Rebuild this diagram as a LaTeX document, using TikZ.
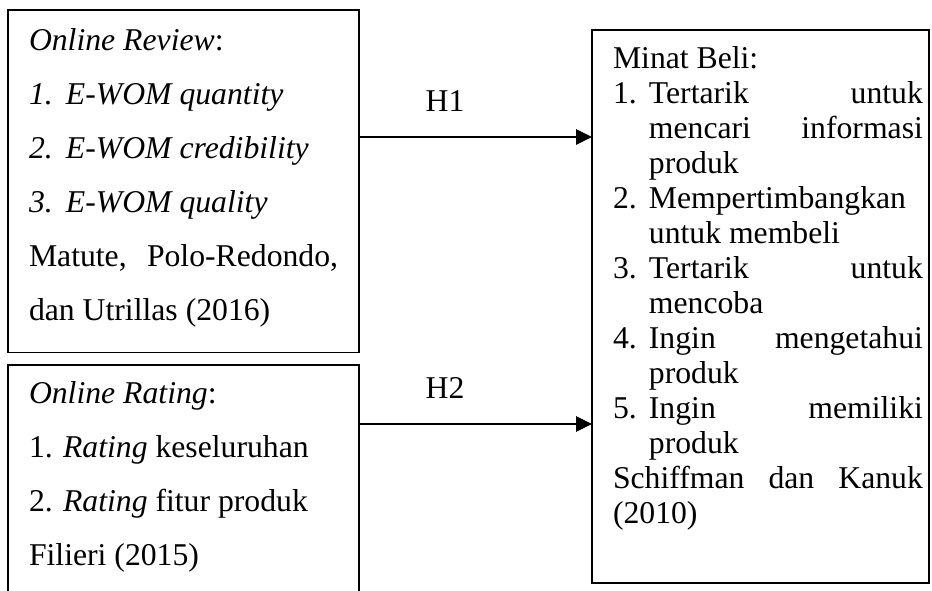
\documentclass[tikz,border=0pt]{standalone}
\usepackage{fontspec}
\setmainfont{Liberation Serif}
\usetikzlibrary{arrows.meta,positioning}

\begin{document}
\begin{tikzpicture}[x=0.3785pt, y=-0.3785pt,
    box/.style={rectangle, draw, line width=0.5pt, anchor=north west,
      inner xsep=7.95pt, inner ysep=0pt, outer sep=0pt, align=justify},
    arr/.style={line width=0.8pt, -{Triangle[length=6pt,width=5.7pt]}},
    lbl/.style={anchor=base, font=\fontsize{12pt}{14pt}\selectfont}]
    \useasboundingbox (0,0) rectangle (932,590);
    \clip (0,0) rectangle (932,590);

    % Online Review
    \node[box, text width=117pt, font=\fontsize{12pt}{20.44pt}\selectfont] (review) at (8,10) {%
      \rule{0pt}{15.5pt}\textit{Online Review}:\\
      \makebox[14pt][l]{\textit{1.}}\textit{E-WOM quantity}\\
      \makebox[14pt][l]{\textit{2.}}\textit{E-WOM credibility}\\
      \makebox[14pt][l]{\textit{3.}}\textit{E-WOM quality}\\
      Matute,\hfill Polo-Redondo,\\
      dan Utrillas (2016)\rule[-11.9pt]{0pt}{11.9pt}};

    % Online Rating
    \node[box, text width=117pt, font=\fontsize{12pt}{20.55pt}\selectfont] (rating) at (8,365) {%
      \rule{0pt}{14.4pt}\textit{Online Rating}:\\
      \makebox[12.9pt][l]{1.}\textit{Rating} keseluruhan\\
      \makebox[12.9pt][l]{2.}\textit{Rating} fitur produk\\
      Filieri (2015)\rule[-15pt]{0pt}{15pt}};

    % Minat Beli
    \node[box, inner xsep=2.27pt, font=\fontsize{12pt}{13.25pt}\selectfont] (minat) at (592,30) {%
      \hspace*{5.68pt}\parbox[t]{117.3pt}{%
      \rule{0pt}{14.4pt}Minat Beli:\\
      \makebox[13.6pt][l]{1.}Tertarik\hfill untuk\\
      \hspace*{13.6pt}mencari\hfill informasi\\
      \hspace*{13.6pt}produk\\
      \makebox[13.6pt][l]{2.}Mempertimbangkan\\
      \hspace*{13.6pt}untuk membeli\\
      \makebox[13.6pt][l]{3.}Tertarik\hfill untuk\\
      \hspace*{13.6pt}mencoba\\
      \makebox[13.6pt][l]{4.}Ingin\hfill mengetahui\\
      \hspace*{13.6pt}produk\\
      \makebox[13.6pt][l]{5.}Ingin\hfill memiliki\\
      \hspace*{13.6pt}produk\\
      Schiffman\hfill dan\hfill Kanuk\\
      (2010)\rule[-22.7pt]{0pt}{22.7pt}}};

    % Hypotheses
    \node[lbl] (h1) at (445,111) {H1};
    \node[lbl] (h2) at (445,398) {H2};

    % Connections
    \draw[arr] (review.east |- 0,137) -- (minat.west |- 0,137);
    \draw[arr] (rating.east |- 0,424) -- (minat.west |- 0,424);
\end{tikzpicture}
\end{document}
